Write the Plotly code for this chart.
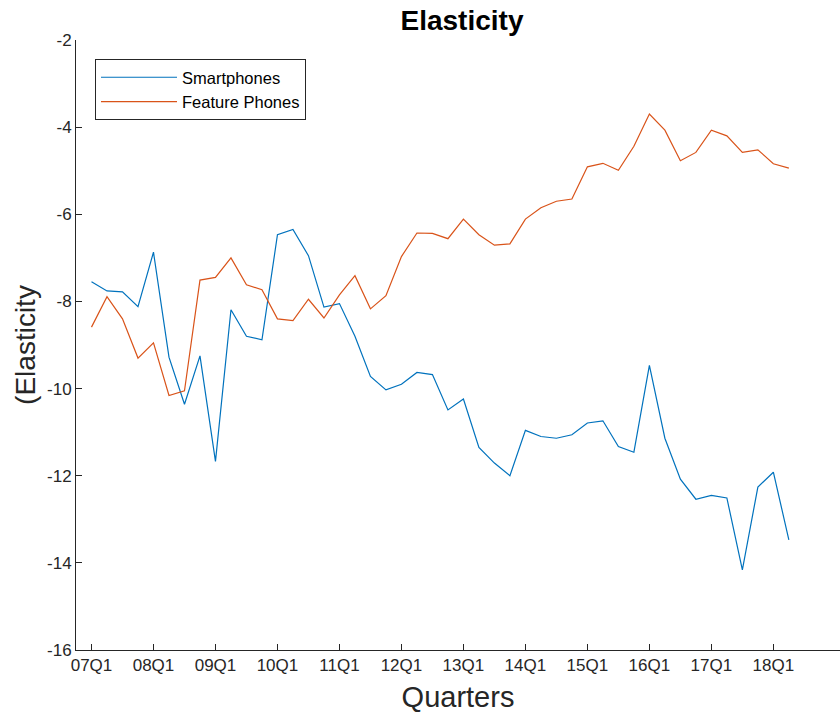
import plotly.graph_objects as go

quarters = list(range(1, 47))
smartphones = [-7.55, -7.76, -7.78, -8.12, -6.87, -9.28, -10.36, -9.25, -11.67, -8.19,
               -8.80, -8.88, -6.47, -6.35, -6.95, -8.13, -8.05, -8.80, -9.72, -10.03,
               -9.90, -9.63, -9.68, -10.49, -10.24, -11.35, -11.71, -12.00, -10.96, -11.10,
               -11.14, -11.06, -10.79, -10.74, -11.33, -11.46, -9.47, -11.14, -12.08, -12.54,
               -12.45, -12.51, -14.16, -12.26, -11.92, -13.47]
feature_phones = [-8.59, -7.89, -8.40, -9.30, -8.95, -10.16, -10.05, -7.51, -7.45, -7.00,
                  -7.62, -7.73, -8.40, -8.44, -7.95, -8.38, -7.85, -7.41, -8.17, -7.87,
                  -6.97, -6.43, -6.44, -6.56, -6.11, -6.47, -6.71, -6.68, -6.11, -5.85,
                  -5.70, -5.65, -4.91, -4.83, -4.99, -4.44, -3.70, -4.07, -4.77, -4.58,
                  -4.07, -4.20, -4.58, -4.52, -4.84, -4.94]
x_tick_vals = [1, 5, 9, 13, 17, 21, 25, 29, 33, 37, 41, 45]
x_tick_text = ["07Q1", "08Q1", "09Q1", "10Q1", "11Q1", "12Q1", "13Q1", "14Q1",
               "15Q1", "16Q1", "17Q1", "18Q1"]
y_tick_vals = [-2, -4, -6, -8, -10, -12, -14, -16]
y_tick_text = ["-2", "-4", "-6", "-8", "-10", "-12", "-14", "-16"]

axis_col = "#262626"
font_family = "Liberation Sans, Arial, Helvetica, sans-serif"

fig = go.Figure()
fig.add_trace(go.Scatter(x=quarters, y=smartphones, mode="lines", name="Smartphones",
                         line=dict(color="#0072BD", width=1.2)))
fig.add_trace(go.Scatter(x=quarters, y=feature_phones, mode="lines", name="Feature Phones",
                         line=dict(color="#D95319", width=1.2)))

fig.update_layout(
    width=840, height=713,
    margin=dict(l=76, r=0, t=40, b=63, autoexpand=False),
    paper_bgcolor="white", plot_bgcolor="white",
    font=dict(family=font_family, color=axis_col, size=17),
    title=dict(text="<b>Elasticity</b>", x=462/840, xref="container", xanchor="center",
               y=1 - 20/713, yref="container", yanchor="middle",
               font=dict(size=28, color="black", family=font_family)),
    showlegend=True,
    legend=dict(x=(95-76)/764, y=(650-59)/610, xanchor="left", yanchor="top",
                bordercolor=axis_col, borderwidth=1, bgcolor="white",
                font=dict(size=16.5, color="black"), itemwidth=76,
                tracegroupgap=0),
    xaxis=dict(range=[0, 49.3], tickvals=x_tick_vals, ticktext=x_tick_text,
               automargin=False,
               showgrid=False, zeroline=False, showline=True, linecolor=axis_col,
               linewidth=1, ticks="inside", ticklen=6, tickcolor=axis_col,
               tickfont=dict(size=17, color=axis_col),
               title=dict(text="Quarters", font=dict(size=29, color=axis_col), standoff=12)),
    yaxis=dict(range=[-16, -2], tickvals=y_tick_vals, ticktext=y_tick_text,
               automargin=False,
               showgrid=False, zeroline=False, showline=True, linecolor=axis_col,
               linewidth=1, ticks="inside", ticklen=6, tickcolor=axis_col,
               tickfont=dict(size=17, color=axis_col),
               title=dict(text="(Elasticity", font=dict(size=28, color=axis_col), standoff=3)),
)

fig.write_html("out.html", config={"displayModeBar": False},
               post_script="document.body.style.margin='0';")
